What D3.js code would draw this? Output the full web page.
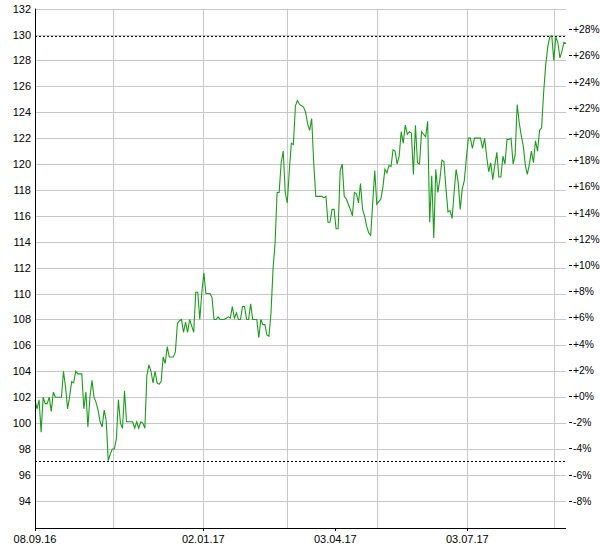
<!DOCTYPE html>
<html><head><meta charset="utf-8">
<script src="https://cdn.jsdelivr.net/npm/d3@7"></script>
<style>body{margin:0;background:#fff}text{font-family:"Liberation Sans",Arial,sans-serif;font-size:11px}text.pl{font-size:10.3px}</style>
</head><body><svg id="c" width="600" height="550"></svg>
<script>
const startDate = "2016-09-08", endDate = "2017-09-09";
const values = [
101.8,101.1,101.8,99.3,102,101.5,101.5,102,100.9,102.4,102,102,102,102,104,102.8,101.1,102,103.2,103.1,104,103.8,103.8,103.8,101.1,102.4,99.7,102,103.3,102,101.6,101,100.1,99.7,101,100.2,97.1,97.6,98,98,98.8,101.8,100,99.6,102.5,100.1,100.1,100.1,100.1,99.6,100.1,99.6,100.1,100,99.6,103.7,104.5,104,103.1,104,103.1,103,103.2,105.1,104.6,105.9,105.1,105.1,105.1,105.5,107.7,107.9,
108,107,107.8,107,108,107.5,107,110.1,110.1,108,110.1,111.6,110,110,110,109.7,108,108,108.2,108,108,108,108.1,108.2,108.1,109,108.1,108.5,108,108,109,109,108,108,109.2,108,108,108,106.6,108,107.6,107.6,106.8,106.7,108.5,111.9,113.9,117.8,117.8,120.1,121,117.8,117,119.5,121.6,121.5,124.5,124.9,124.6,124.5,124.4,124,123.1,122.6,123.5,120.1,117.5,117.5,117.5,117.5,117.4,117.5,
115.5,115.5,116.5,116.5,115,115,119.5,120,117.5,117.3,116.9,116.5,116,117.8,117.7,117,118.5,116.5,116,115.2,114.7,114.5,117,119.5,116.9,117.1,117.3,118.2,119.6,119.3,119.9,119.8,121.1,121,120,120.6,122.5,121.6,123,122.3,122.5,122.4,119.2,123,120.1,120,122.5,122.3,122.1,123.3,115.5,119.1,114.3,119.6,117.8,118.8,120.3,
120.2,118.1,116.3,116.4,115.8,117.8,119.6,118.6,116.5,118.1,118.7,120.4,122,122,121.2,122,122,122,122,121.2,122,120.6,119.4,120.1,118.8,119.9,120.9,119,119,120.6,120,121.9,121.9,122,120,120.7,124.6,123.2,122.2,121.4,119.9,119.2,120,121,120.1,121.8,121,122.6,122.8,125.5,127.6,129,129.8,129.9,128,129.8,129.4,128.2,128.7,129.4,129.3
];
const yTicks = [94,96,98,100,102,104,106,108,110,112,114,116,118,120,122,124,126,128,130,132];
const pctTicks = [-8,-6,-4,-2,0,2,4,6,8,10,12,14,16,18,20,22,24,26,28];
const gridDates = ["2016-11-01","2017-01-02","2017-03-01","2017-05-02","2017-07-03","2017-09-01"];
const labelDates = ["2016-09-08","2017-01-02","2017-04-03","2017-07-03"];
const refLines = [129.9, 97.07];

const svg = d3.select("#c");
const L=35,R=566,T=8.6,B=528;
const p = d3.timeParse("%Y-%m-%d"), f = d3.timeFormat("%d.%m.%y");
const t0=p(startDate), t1=p(endDate);
const x = d3.scaleTime().domain([t0,t1]).range([L,R]);
const y = d3.scaleLinear().domain([91.9,132]).range([B,T]);
const yp = d3.scaleLinear().domain([0,28]).range([396,29.2]);
const n = values.length;
const dateAt = i => new Date(+t0 + i*((+t1 - +t0)/(n-1)));

const g = svg.append("g");
g.selectAll(".hg").data(yTicks).join("line").attr("x1",L).attr("x2",R)
 .attr("y1",d=>Math.round(y(d))+0.5).attr("y2",d=>Math.round(y(d))+0.5).attr("stroke","#c8c8c8");
g.selectAll(".vg").data(gridDates).join("line").attr("y1",T).attr("y2",B)
 .attr("x1",d=>Math.round(x(p(d)))+0.5).attr("x2",d=>Math.round(x(p(d)))+0.5).attr("stroke","#c8c8c8");
g.selectAll(".rl").data(refLines).join("line").attr("x1",L).attr("x2",R)
 .attr("y1",d=>Math.round(y(d))+0.5).attr("y2",d=>Math.round(y(d))+0.5)
 .attr("stroke","#000").attr("stroke-dasharray","2,2");

const line = d3.line().x((d,i)=>x(dateAt(i))).y(d=>y(d));
g.append("path").datum(values).attr("d",line).attr("fill","none").attr("stroke","#1a9e1a").attr("stroke-width",1.1);

g.append("line").attr("x1",L+0.5).attr("x2",L+0.5).attr("y1",T).attr("y2",B).attr("stroke","#000");
g.append("line").attr("x1",L).attr("x2",R).attr("y1",B+0.5).attr("y2",B+0.5).attr("stroke","#000");
g.selectAll(".yl").data(yTicks).join("text").attr("x",31).attr("y",d=>y(d)+4).attr("text-anchor","end").text(d=>d);
g.selectAll(".pt").data(pctTicks).join("line").attr("x1",569).attr("x2",572)
 .attr("y1",d=>Math.round(yp(d))+0.5).attr("y2",d=>Math.round(yp(d))+0.5).attr("stroke","#000");
g.selectAll(".pl").data(pctTicks).join("text").attr("class","pl").attr("x",573).attr("y",d=>yp(d)+4)
 .text(d=>(d>=0?"+":"-")+Math.abs(d)+"%");
g.selectAll(".xt").data(labelDates).join("line").attr("y1",B).attr("y2",B+3)
 .attr("x1",d=>Math.round(x(p(d)))+0.5).attr("x2",d=>Math.round(x(p(d)))+0.5).attr("stroke","#000");
g.selectAll(".xl").data(labelDates).join("text").attr("x",d=>x(p(d))).attr("y",543)
 .attr("text-anchor","middle").text(d=>f(p(d)));
</script></body></html>
